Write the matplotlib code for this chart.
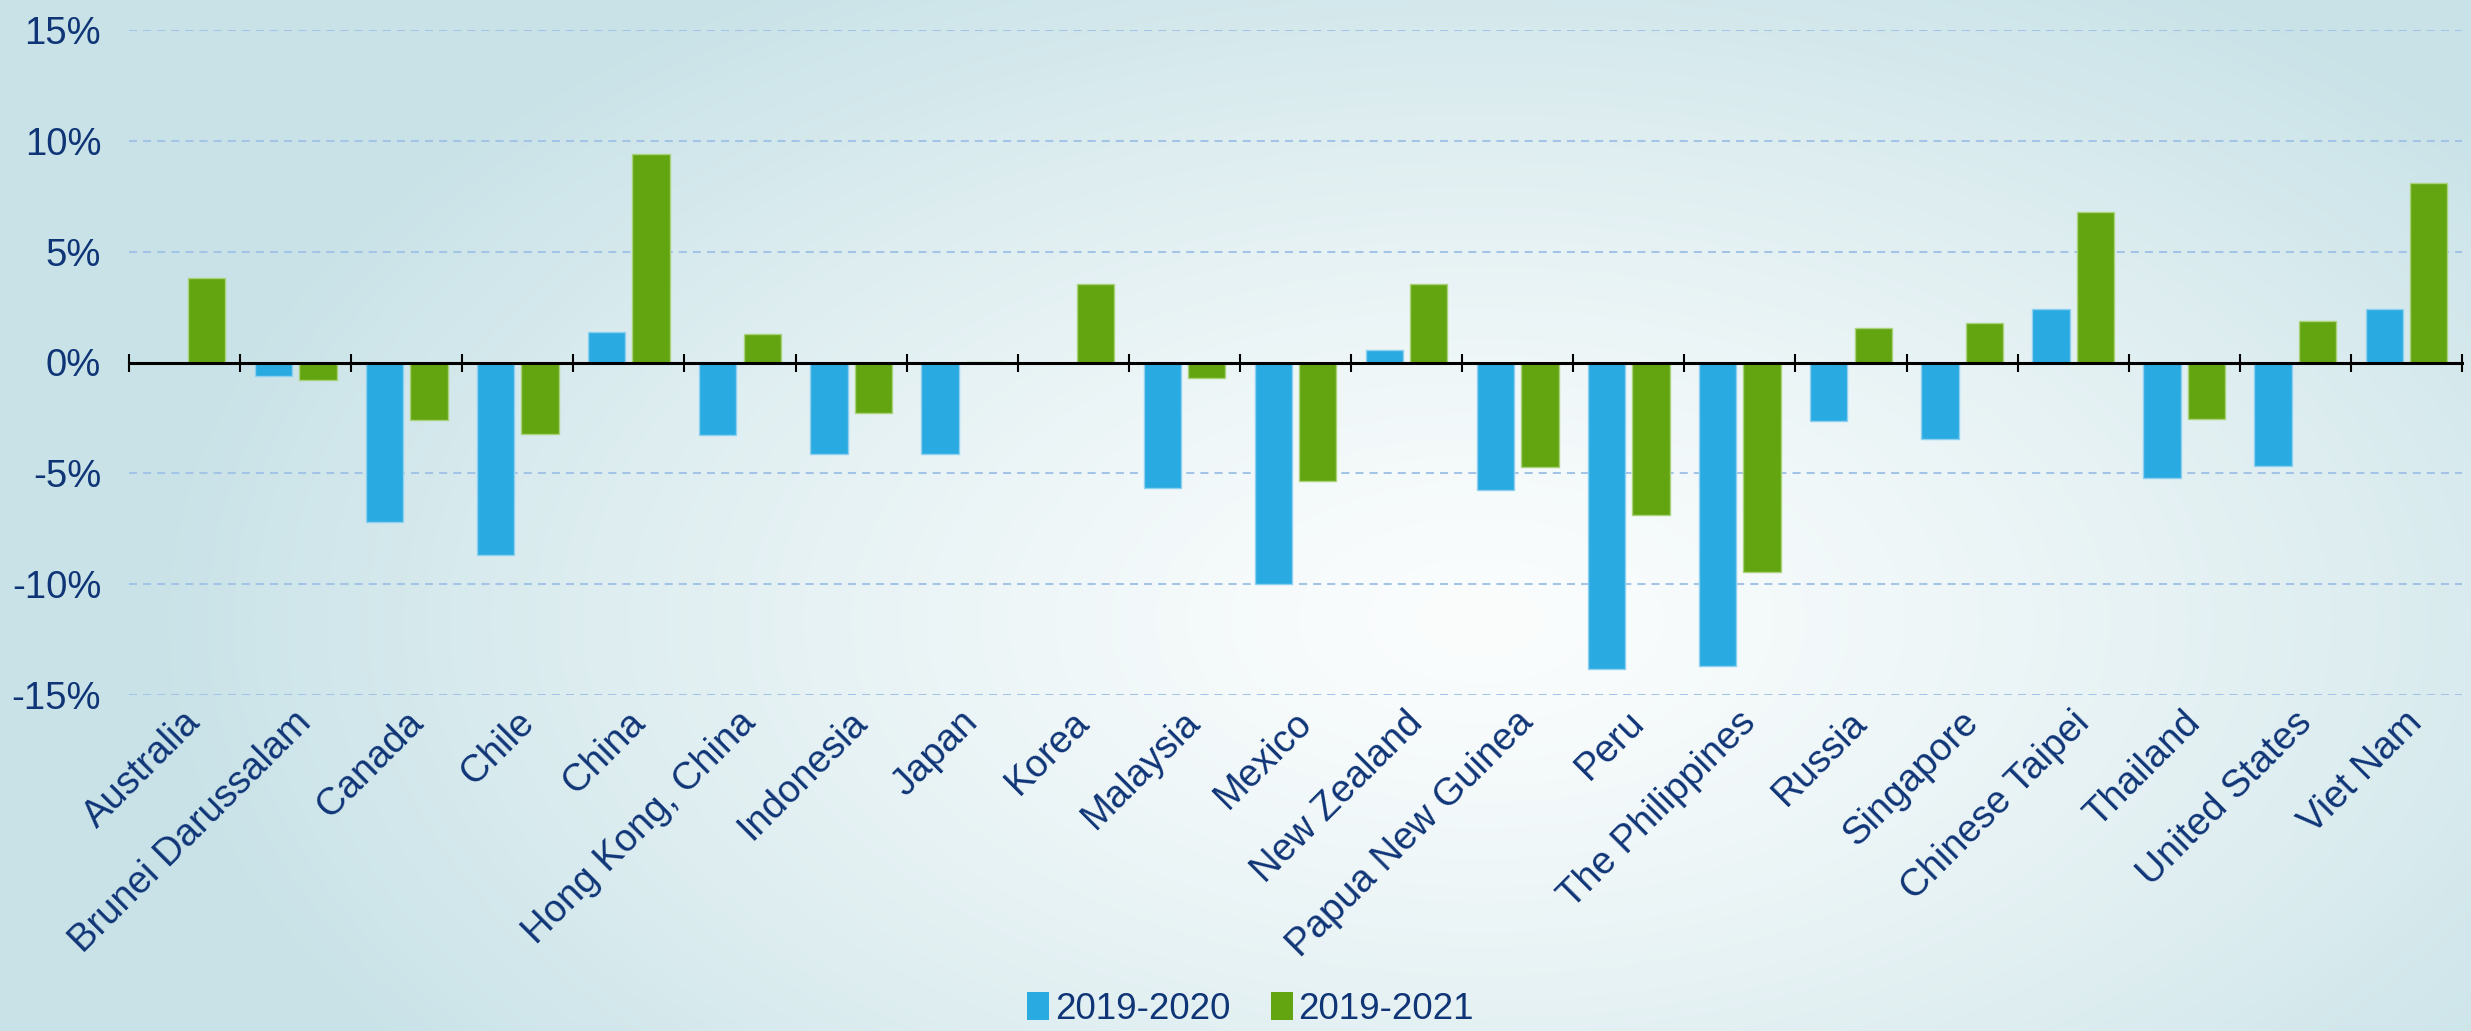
import matplotlib
matplotlib.use("Agg")
import matplotlib.pyplot as plt
import matplotlib.transforms as mtransforms
from matplotlib.patches import Patch
import numpy as np

economies = [
    "Australia", "Brunei Darussalam", "Canada", "Chile", "China",
    "Hong Kong, China", "Indonesia", "Japan", "Korea", "Malaysia", "Mexico",
    "New Zealand", "Papua New Guinea", "Peru", "The Philippines", "Russia",
    "Singapore", "Chinese Taipei", "Thailand", "United States", "Viet Nam",
]
chg_2019_2020 = [0.0, -0.62, -7.2, -8.67, 1.36, -3.26, -4.15, -4.13, 0.0, -5.66,
                 -10.0, 0.58, -5.75, -13.84, -13.7, -2.66, -3.44, 2.43, -5.19,
                 -4.69, 2.43]
chg_2019_2021 = [3.81, -0.78, -2.61, -3.21, 9.41, 1.29, -2.28, 0.03, 3.55, -0.7,
                 -5.35, 3.55, -4.73, -6.89, -9.44, 1.56, 1.78, 6.8, -2.55,
                 1.85, 8.09]
series_names = ["2019-2020", "2019-2021"]
yticks = [-15, -10, -5, 0, 5, 10, 15]

BLUE = "#29abe2"
GREEN = "#62a510"
NAVY = "#0f3577"

plt.rcParams["font.family"] = ["Liberation Sans", "DejaVu Sans"]

W, H = 2471, 1031
fig = plt.figure(figsize=(W / 100, H / 100), dpi=100)

# radial background gradient
bg = fig.add_axes([0, 0, 1, 1], zorder=-10)
yy, xx = np.mgrid[0:H, 0:W]
r = np.sqrt(((xx - 1480) / 1350.0) ** 2 + ((yy - 620) / 760.0) ** 2)
t = np.clip(r, 0, 1) ** 1.3
c_in = np.array([251, 253, 253]) / 255.0
c_out = np.array([200, 226, 231]) / 255.0
img = c_in[None, None, :] + (c_out - c_in)[None, None, :] * t[:, :, None]
bg.imshow(img, aspect="auto", interpolation="bilinear")
bg.axis("off")

ax = fig.add_axes([129 / W, 1 - 695 / H, (2462 - 129) / W, (695 - 30) / H])
ax.set_facecolor("none")

x = np.arange(len(economies))
bw = 0.336
ax.bar(x - 0.2, chg_2019_2020, bw, color=BLUE, edgecolor="#8fd0f0", linewidth=1.0, zorder=3)
ax.bar(x + 0.2, chg_2019_2021, bw, color=GREEN, edgecolor="#a9d27a", linewidth=1.0, zorder=3)

ax.set_xlim(-0.5, len(economies) - 0.5)
ax.set_ylim(-15, 15)

# dashed grid (not at zero)
for v in yticks:
    if v != 0:
        ax.axhline(v, color="#a3c4e6", lw=1.45, linestyle=(0, (4, 3)), zorder=1)

for s in ["top", "right", "left"]:
    ax.spines[s].set_visible(False)
ax.spines["bottom"].set_position(("data", 0))
ax.spines["bottom"].set_linewidth(2.2)
ax.spines["bottom"].set_zorder(5)
ax.set_xticks(np.arange(len(economies) + 1) - 0.5)
ax.tick_params(axis="x", direction="inout", length=13, width=1.5, labelbottom=False)

ax.set_yticks(yticks)
ax.set_yticklabels([f"{v}%" for v in yticks])
ax.tick_params(axis="y", length=0, pad=20, labelsize=27.5, labelcolor=NAVY)

trans = mtransforms.blended_transform_factory(ax.transData, ax.transAxes)
off = mtransforms.ScaledTranslation(0.05, -0.22, fig.dpi_scale_trans)
for i, name in enumerate(economies):
    ax.text(i + 0.05, 0, name, transform=trans + off, rotation=45,
            rotation_mode="anchor", ha="right", va="center",
            fontsize=27.5, color=NAVY)

handles = [Patch(facecolor=BLUE, edgecolor="none"), Patch(facecolor=GREEN, edgecolor="none")]
fig.legend(handles, series_names, loc="center", bbox_to_anchor=(0.506, 0.021),
           ncol=2, frameon=False, fontsize=26.5, labelcolor=NAVY,
           handlelength=0.6, handleheight=0.8, handletextpad=0.15,
           columnspacing=1.1)

fig.savefig("out.png", dpi=100)
